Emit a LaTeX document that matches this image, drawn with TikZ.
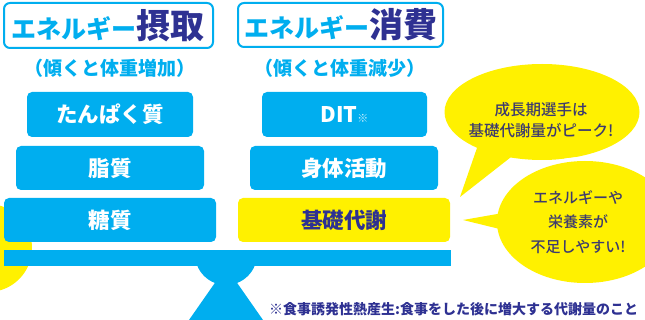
\documentclass[tikz,border=0pt]{standalone}
\usepackage{fontspec}
\newfontfamily\jp{Noto Sans CJK JP}
\newfontfamily\jpk{Noto Sans CJK JP Black}
\newfontfamily\jpm{Noto Sans CJK JP Medium}
\definecolor{cy}{HTML}{00AEEF}
\definecolor{yl}{HTML}{FFF100}
\definecolor{nv}{HTML}{2E3192}
\definecolor{bt}{HTML}{3D3B6E}
\tikzset{
  bluebox/.style={fill=cy, rounded corners=5pt, draw=none, inner sep=0pt, text=white,
    font=\jp\bfseries\fontsize{21.5}{21.5}\selectfont},
  yellowbox/.style={bluebox, fill=yl, text=nv},
  titlebox/.style={draw=cy, line width=2pt, fill=white, rounded corners=6pt, inner sep=0pt},
  subtitle/.style={text=cy, inner sep=0pt, font=\jp\bfseries\fontsize{19}{19}\selectfont},
  bubbletext/.style={text=bt, align=center, inner sep=0pt},
  note/.style={text=nv, inner sep=0pt, anchor=west, font=\jp\bfseries\fontsize{14}{14}\selectfont}
}
\begin{document}
\begin{tikzpicture}[x=1pt,y=-1pt]
\useasboundingbox (0,0) rectangle (645,320);

% left yellow circle
\fill[yl] (-12,248) circle[radius=44];

% bubbles
\fill[yl] (542,112) ellipse[x radius=97.5, y radius=48];
\fill[yl] (478,145) -- (460,197) -- (520,150) -- cycle;
\draw[white, line width=8pt, line join=round] (585,222) ellipse[x radius=88, y radius=61];
\draw[white, line width=8pt, line join=round] (463,220) -- (520,210) -- (520,234) -- cycle;
\fill[yl] (585,222) ellipse[x radius=88, y radius=61];
\fill[yl] (463,220) -- (520,210) -- (520,234) -- cycle;
\node[bubbletext, font=\jpm\fontsize{15.5}{21}\selectfont] (b1) at (541,120.5) {成長期選手は\\基礎代謝量がピーク!};
\node[bubbletext, font=\jpm\fontsize{15}{24.5}\selectfont] (b2) at (578,222) {エネルギーや\\栄養素が\\不足しやすい!};

% titles
\node[titlebox, minimum width=209pt, minimum height=45pt] (tl) at (108.5,25.5)
  {\jpk\textcolor{cy}{\fontsize{25}{25}\selectfont エネルギー}\textcolor{nv}{\fontsize{34}{34}\selectfont 摂取}};
\node[titlebox, minimum width=205pt, minimum height=44pt] (tr) at (340.5,25)
  {\jpk\textcolor{cy}{\fontsize{25}{25}\selectfont エネルギー}\textcolor{nv}{\fontsize{34}{34}\selectfont 消費}};
\node[subtitle] (sl) at (110,68) {（傾くと体重増加）};
\node[subtitle] (sr) at (340,68) {（傾くと体重減少）};

% left boxes
\node[bluebox, minimum width=166pt, minimum height=45pt] (prot) at (110,114.5) {たんぱく質};
\node[bluebox, minimum width=188pt, minimum height=44pt] (fat) at (110,168) {脂質};
\node[bluebox, minimum width=212pt, minimum height=44pt] (sug) at (110,220) {糖質};

% right boxes
\node[bluebox, minimum width=165pt, minimum height=45pt] (dit) at (344.5,114.5)
  {DIT{\fontsize{11}{11}\selectfont\mdseries\textcolor{white!80!cy}{※}}};
\node[bluebox, minimum width=188pt, minimum height=44pt] (act) at (344,168) {身体活動};
\node[yellowbox, minimum width=212pt, minimum height=44pt] (bmr) at (344,220) {基礎代謝};

% beam and fulcrum
\fill[cy] (4,250) rectangle (451,266);
\begin{scope}
  \clip (180,265.5) rectangle (270,300);
  \fill[cy] (226,254) circle[radius=31];
\end{scope}
\fill[cy] (226,267) -- (189,320) -- (263,320) -- cycle;

% note
\node[note] (nt) at (269,309) {※食事誘発性熱産生:食事をした後に増大する代謝量のこと};
\end{tikzpicture}
\end{document}
